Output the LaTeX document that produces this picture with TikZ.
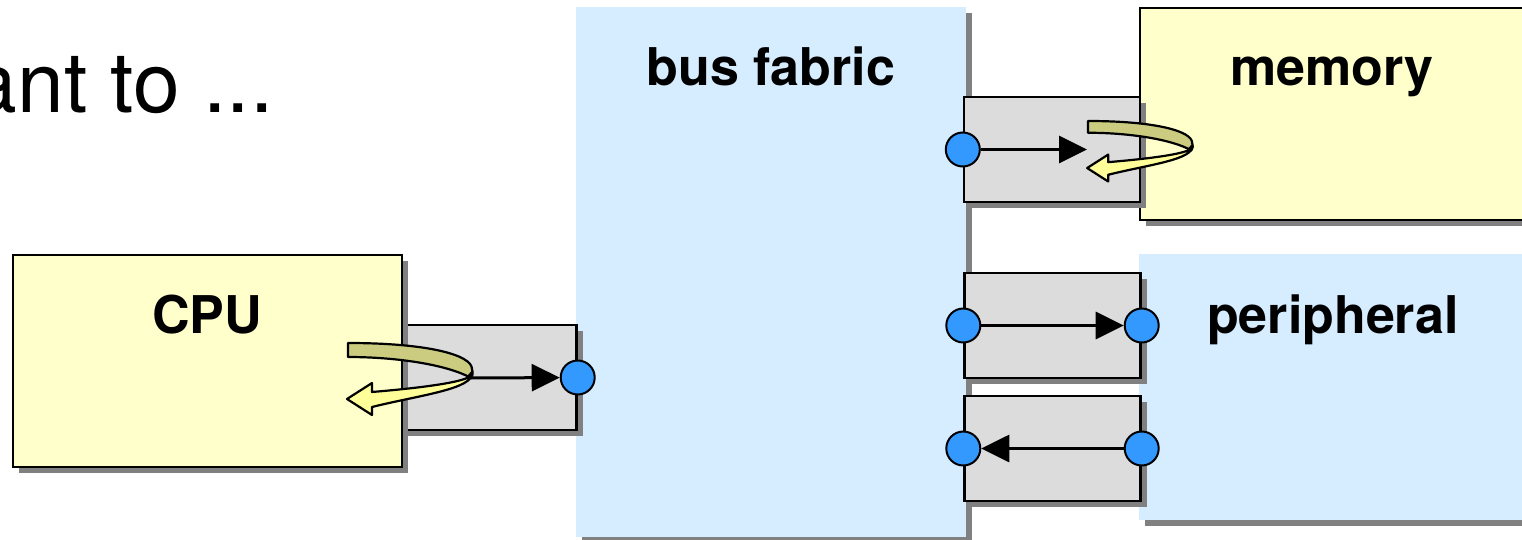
\documentclass[tikz,border=0pt]{standalone}
\usepackage{fontspec}
\setmainfont{TeX Gyre Heros}
\usetikzlibrary{arrows.meta,shadows}

\definecolor{boxyellow}{RGB}{255,255,204}
\definecolor{boxblue}{RGB}{214,236,255}
\definecolor{portgray}{RGB}{220,220,220}
\definecolor{shadowgray}{RGB}{128,128,128}
\definecolor{pinblue}{RGB}{51,153,255}
\definecolor{loopback}{RGB}{204,204,128}
\definecolor{loopfront}{RGB}{255,255,153}

\tikzset{
  shade3/.style={drop shadow={shadow xshift=3pt, shadow yshift=-3pt,
                 fill=shadowgray, opacity=1}},
  unitbox/.style={rectangle, shade3, inner sep=0pt, line width=1.2pt},
  yellowbox/.style={unitbox, draw=black, fill=boxyellow},
  bluebox/.style={unitbox, fill=boxblue},
  portbox/.style={unitbox, draw=black, fill=portgray,
                  minimum width=88pt, minimum height=52.5pt},
  pin/.style={circle, draw=black, fill=pinblue, line width=1pt,
              minimum size=17pt, inner sep=0pt},
  title/.style={anchor=base, inner sep=0pt, font=\bfseries\fontsize{26}{30}\selectfont},
  wire/.style={line width=1.5pt, -{Triangle[length=14pt, width=13.5pt]}},
  loopedge/.style={draw=black, line width=1.1pt, line join=round},
}

% a bent arrow that turns back on itself, origin at the top-left of its tail
\newcommand{\turnback}[2]{%
  \begin{scope}[shift={#1}, scale=#2]
    \path[loopedge, fill=loopback]
      (0,0) .. controls (80,0) and (124,12) .. (124,26)
            .. controls (125,30) and (125,33) .. (123,35)
            .. controls (100,22) and (50,14) .. (0,14) -- cycle;
    \path[loopedge, fill=loopfront]
      (124,29) .. controls (127,46) and (72,52) .. (24,64)
        -- (24,72) -- (-1,56) -- (24,40) -- (24,49)
        .. controls (72,45) and (108,40) .. (119,35) -- cycle;
  \end{scope}}

\begin{document}
\begin{tikzpicture}[x=0.5pt, y=-0.5pt]
  \useasboundingbox (0,0) rectangle (1522,540);

  % heading fragment
  \node[anchor=base east, inner sep=0pt, font=\fontsize{42}{50}\selectfont]
    (heading) at (274,113) {ant to ...};

  % large blocks
  \node[bluebox, minimum width=195pt, minimum height=265pt] (bus) at (771,272) {};
  \node[title] (busl) at (771,86) {bus fabric};

  \node[yellowbox, minimum width=192.5pt, minimum height=106pt] (mem) at (1332.5,114) {};
  \node[title] (meml) at (1332,86) {memory};

  \node[bluebox, minimum width=194pt, minimum height=133pt] (per) at (1333,387) {};
  \node[title] (perl) at (1333,333) {peripheral};

  % CPU and its port
  \node[portbox] (cpuport) at (488.5,377.5) {};
  \node[yellowbox, minimum width=194.5pt, minimum height=106pt] (cpu) at (207.5,361) {};
  \node[title] (cpul) at (207,333) {CPU};

  % ports on the fabric side
  \node[portbox] (memport) at (1052,149.5) {};
  \node[portbox] (outport) at (1052.5,325.5) {};
  \node[portbox] (inport) at (1052.5,448.5) {};

  % pins
  \node[pin] (cpupin) at (cpuport.east) {};
  \node[pin] (mempin) at (memport.west) {};
  \node[pin] (outa) at (outport.west) {};
  \node[pin] (outb) at (outport.east) {};
  \node[pin] (ina) at (inport.west) {};
  \node[pin] (inb) at (inport.east) {};

  % transfers
  \coordinate (cpuloop) at (471,378);
  \coordinate (memloop) at (1087,149.5);
  \draw[wire] (cpuloop) -- (cpupin);
  \draw[wire] (mempin) -- (memloop);
  \draw[wire] (outa) -- (outb);
  \draw[wire] (inb) -- (ina);

  % turn-around arrows
  \turnback{(348,343)}{1}
  \turnback{(1088,121)}{0.84}
\end{tikzpicture}
\end{document}
